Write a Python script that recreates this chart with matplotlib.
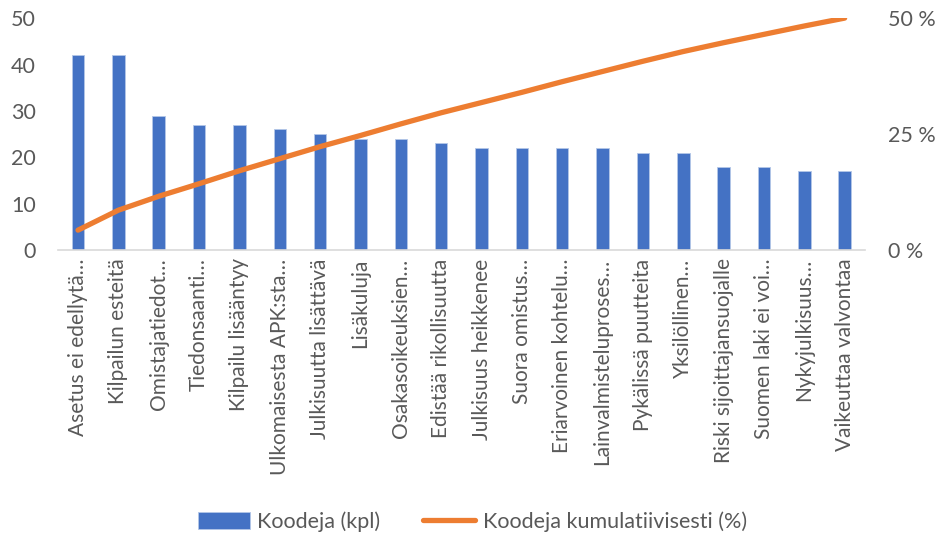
import matplotlib.pyplot as plt
import numpy as np

plt.rcParams['font.family'] = ['Lato', 'DejaVu Sans']

# data
categories = ["Asetus ei edellytä…", "Kilpailun esteitä", "Omistajatiedot…",
              "Tiedonsaanti…", "Kilpailu lisääntyy", "Ulkomaisesta APK:sta…",
              "Julkisuutta lisättävä", "Lisäkuluja", "Osakasoikeuksien…",
              "Edistää rikollisuutta", "Julkisuus heikkenee", "Suora omistus…",
              "Eriarvoinen kohtelu…", "Lainvalmisteluproses…", "Pykälissä puutteita",
              "Yksilöllinen…", "Riski sijoittajansuojalle", "Suomen laki ei voi…",
              "Nykyjulkisuus…", "Vaikeuttaa valvontaa"]
counts = [42, 42, 29, 27, 27, 26, 25, 24, 24, 23, 22, 22, 22, 22, 21, 21, 18, 18, 17, 17]
cumulative = [4.3, 8.6, 11.6, 14.3, 17.1, 19.7, 22.3, 24.7, 27.2, 29.6,
              31.8, 34.0, 36.3, 38.5, 40.7, 42.8, 44.7, 46.5, 48.3, 50.0]

BAR_COLOR = "#4472C4"
LINE_COLOR = "#ED7D31"
TEXT_COLOR = "#595959"

fig = plt.figure(figsize=(9.39, 5.39), dpi=100)
ax = fig.add_axes([0.0616, 0.536, 0.8594, 0.4304])
ax2 = ax.twinx()

x = np.arange(len(categories))
bars = ax.bar(x, counts, width=0.31, color=BAR_COLOR, edgecolor="#B4C7E7",
              linewidth=0.6, label="Koodeja (kpl)", zorder=2)
line, = ax2.plot(x, cumulative, color=LINE_COLOR, linewidth=3.8,
                 solid_capstyle="round", label="Koodeja kumulatiivisesti (%)")

ax.set_xlim(-0.5, len(categories) - 0.5)
ax.set_ylim(0, 50)
ax.set_yticks(range(0, 51, 10))
ax2.set_ylim(0, 50)
ax2.set_yticks([0, 25, 50])
ax2.set_yticklabels(["0 %", "25 %", "50 %"])

ax.set_xticks(x)
ax.set_xticklabels(categories, rotation=90, ha="center", va="top")

for a in (ax, ax2):
    for s in a.spines.values():
        s.set_visible(False)
    a.tick_params(length=0, colors=TEXT_COLOR, labelsize=15.5)
ax.spines["bottom"].set_visible(True)
ax.spines["bottom"].set_color("#D9D9D9")
ax.spines["bottom"].set_linewidth(1.2)
ax.tick_params(axis="y", pad=16)
ax.tick_params(axis="x", pad=6, labelsize=15)
ax2.tick_params(axis="y", pad=17)

fig.legend([bars, line], ["Koodeja (kpl)", "Koodeja kumulatiivisesti (%)"],
           loc="center", bbox_to_anchor=(0.503, 0.032), ncol=2, frameon=False,
           fontsize=15.5, labelcolor=TEXT_COLOR, handlelength=2.4, handleheight=0.8,
           columnspacing=2.0, handletextpad=0.35)

plt.savefig("out.png", dpi=100)
